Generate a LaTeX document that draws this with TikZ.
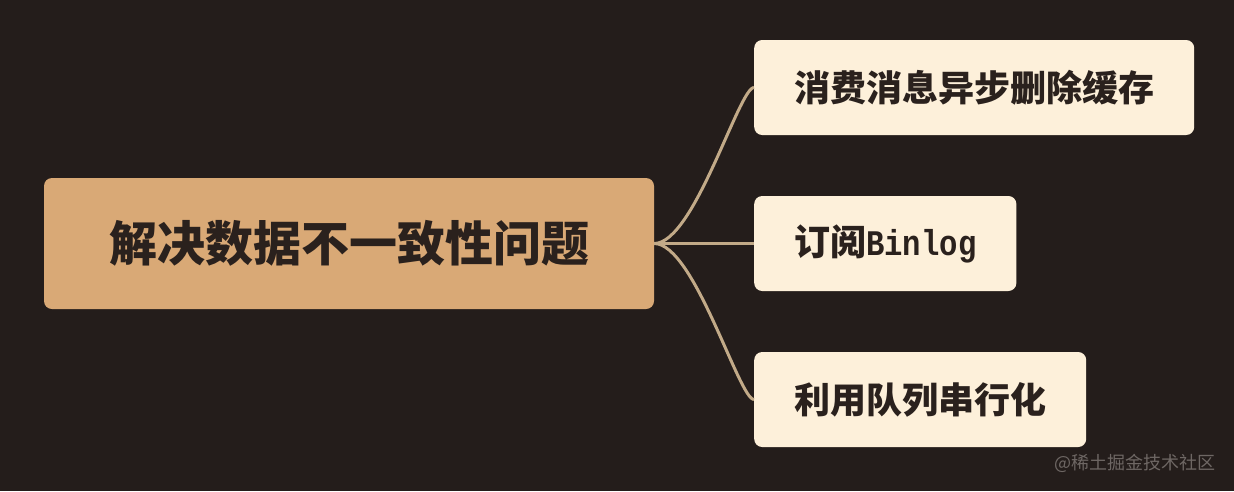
\documentclass[tikz,border=0pt]{standalone}
\usepackage{fontspec}
\newfontfamily\cjk{Noto Sans CJK SC}
\newfontfamily\monob[FakeStretch=0.85]{Liberation Mono}
\definecolor{bgc}{HTML}{241D1B}
\definecolor{rootc}{HTML}{D9A976}
\definecolor{childc}{HTML}{FDF0DA}
\definecolor{textc}{HTML}{2A211D}
\definecolor{linkc}{HTML}{C2AA88}
\definecolor{markc}{HTML}{6E6764}
\tikzset{
  rootbox/.style={fill=rootc, rounded corners=8pt, minimum width=610, minimum height=131,
    inner sep=0pt, text=textc, font=\cjk\bfseries\fontsize{48}{52}\selectfont},
  childbox/.style={fill=childc, rounded corners=8pt, minimum height=95, inner xsep=40pt,
    inner ysep=0pt, anchor=west, text=textc, font=\cjk\bfseries\fontsize{36}{40}\selectfont},
  link/.style={draw=linkc, line width=3pt}
}
\begin{document}
\begin{tikzpicture}[x=1pt,y=-1pt]
\fill[bgc] (0,0) rectangle (1234,491);
\useasboundingbox (0,0) rectangle (1234,491);
\node[rootbox] (root) at (349,243.5) {解决数据不一致性问题};
\node[childbox] (c1) at (754,87.5) {消费消息异步删除缓存};
\node[childbox] (c2) at (754,243.5) {订阅{\monob\bfseries Binlog}};
\node[childbox] (c3) at (754,399.5) {利用队列串行化};
\draw[link] (root.east) .. controls +(40,0) and +(-15,0) .. (c1.west);
\draw[link] (root.east) -- (c2.west);
\draw[link] (root.east) .. controls +(40,0) and +(-15,0) .. (c3.west);
\node[text=markc, font=\cjk\fontsize{18}{20}\selectfont, anchor=east, inner sep=0pt] (wm) at (1216,463) {@稀土掘金技术社区};
\end{tikzpicture}
\end{document}
